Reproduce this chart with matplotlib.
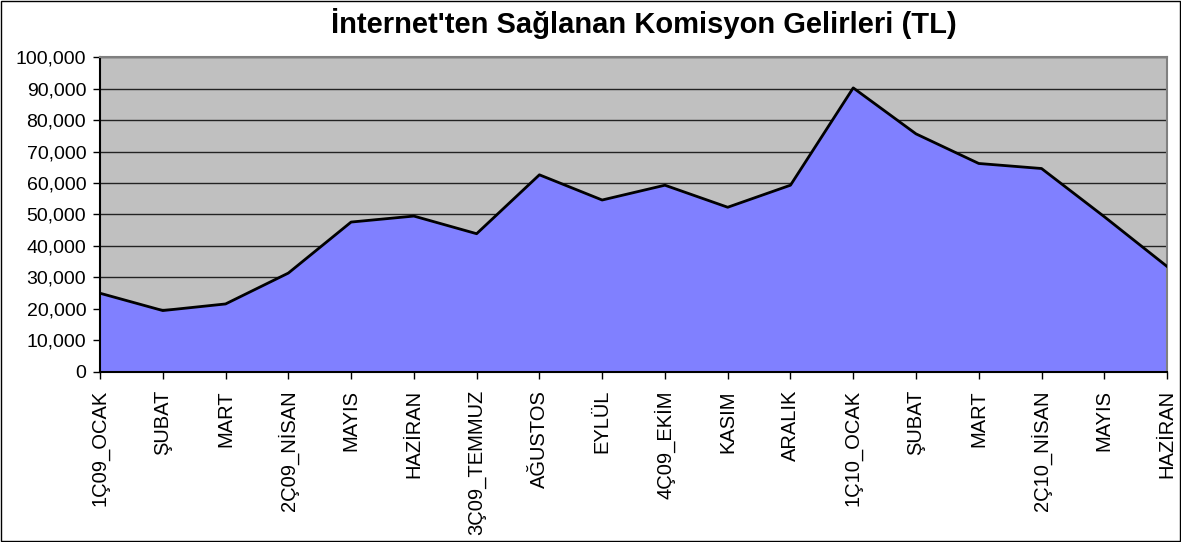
import matplotlib.pyplot as plt
import numpy as np

plt.rcParams['font.family'] = ['Liberation Sans', 'DejaVu Sans']

months = ['1Ç09_OCAK', 'ŞUBAT', 'MART', '2Ç09_NİSAN', 'MAYIS', 'HAZİRAN',
          '3Ç09_TEMMUZ', 'AĞUSTOS', 'EYLÜL', '4Ç09_EKİM', 'KASIM', 'ARALIK',
          '1Ç10_OCAK', 'ŞUBAT', 'MART', '2Ç10_NİSAN', 'MAYIS', 'HAZİRAN']
income = [25000, 19500, 21600, 31400, 47600, 49500,
          43900, 62600, 54600, 59300, 52300, 59300,
          90200, 75600, 66200, 64600, 49300, 33500]

x = np.arange(len(months))

fig = plt.figure(figsize=(11.81, 5.42), dpi=100)
ax = fig.add_axes([0.0847, 0.3137, 0.9035, 0.5811])

ax.set_facecolor('#C0C0C0')
ax.fill_between(x, income, 0, color='#8080FF', zorder=2)
ax.plot(x, income, color='black', linewidth=2, zorder=3)

ax.set_xlim(0, len(months) - 1)
ax.set_ylim(0, 100000)
ax.set_yticks(np.arange(0, 100001, 10000))
ax.set_yticklabels([f'{v:,}' for v in range(0, 100001, 10000)], fontsize=14)
ax.yaxis.grid(True, color='#222222', linewidth=1, zorder=1)
ax.set_axisbelow(True)

ax.set_xticks(x)
ax.set_xticklabels(months, rotation=90, fontsize=14.5)
ax.tick_params(axis='both', direction='out', length=5, width=1, color='black')
ax.tick_params(axis='x', pad=8)
ax.tick_params(axis='y', pad=5)

for s in ['top', 'right']:
    ax.spines[s].set_color('#808080')
    ax.spines[s].set_linewidth(1.5)
for s in ['bottom', 'left']:
    ax.spines[s].set_color('black')
    ax.spines[s].set_linewidth(1.5)
ax.spines['bottom'].set_zorder(4)

fig.text(0.545, 1 - 33 / 542, "İnternet'ten Sağlanan Komisyon Gelirleri (TL)",
         fontsize=21, fontweight='bold', ha='center', va='baseline')

# outer border round the whole chart
fig.patches.append(plt.Rectangle((0.0008, 0.001), 0.9984, 0.998, transform=fig.transFigure,
                                 fill=False, edgecolor='black', linewidth=1))

fig.savefig('out.png', dpi=100)
